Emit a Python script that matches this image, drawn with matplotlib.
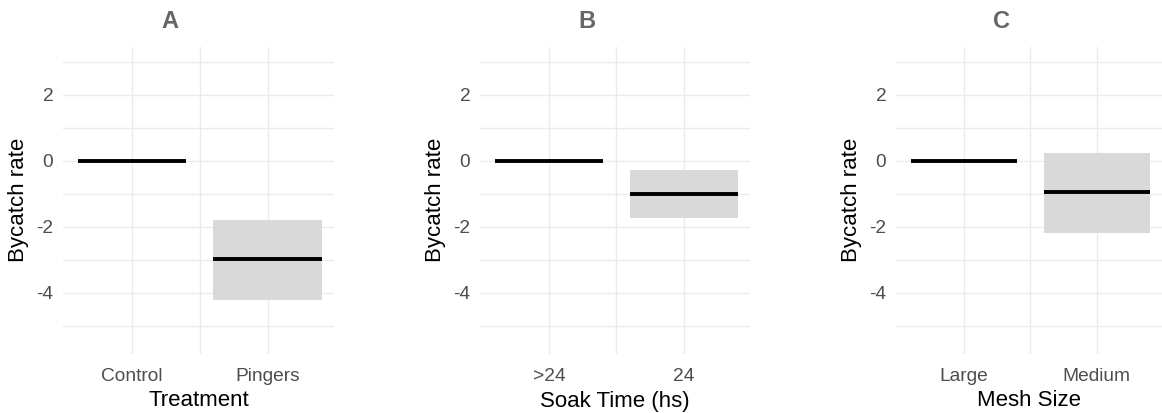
import matplotlib.pyplot as plt
from matplotlib.ticker import FixedLocator

# --- data ---
panel_titles = ["A", "B", "C"]
x_titles = ["Treatment", "Soak Time (hs)", "Mesh Size"]
categories = [["Control", "Pingers"], [">24", "24"], ["Large", "Medium"]]
estimates = [[0.0, -2.97], [0.0, -1.0], [0.0, -0.95]]
lower = [[0.0, -4.21], [0.0, -1.73], [0.0, -2.18]]
upper = [[0.0, -1.79], [0.0, -0.27], [0.0, 0.24]]

W, H = 1162, 413
fig = plt.figure(figsize=(W / 100, H / 100), dpi=100)
plt.rcParams['font.family'] = ['Liberation Sans', 'DejaVu Sans']

# panel boxes in pixels: (left, right), top=47, bottom=354
panel_x = [(63, 334), (480, 750), (896, 1162)]
ylab_x = [19, 435, 851]
title_x = [170, 587, 1002]
top_px, bot_px = 47, 354

grid_col = "#EBEBEB"
tick_col = "#4D4D4D"
box_w = 0.8

for i in range(3):
    l, r = panel_x[i]
    ax = fig.add_axes([l / W, (H - bot_px) / H, (r - l) / W, (bot_px - top_px) / H])
    pos = [1, 2]
    for j, p in enumerate(pos):
        lo, hi = lower[i][j], upper[i][j]
        if hi > lo:
            ax.fill_between([p - box_w / 2, p + box_w / 2], lo, hi,
                            color="#D9D9D9", linewidth=0, zorder=2)
        ax.plot([p - box_w / 2, p + box_w / 2], [estimates[i][j]] * 2,
                color="black", lw=2.8, solid_capstyle="butt", zorder=3)

    ax.set_xlim(0.49, 2.49)
    ax.set_ylim(-5.85, 3.45)
    ax.set_xticks(pos)
    ax.set_xticklabels(categories[i])
    ax.xaxis.set_minor_locator(FixedLocator([1.5]))
    ax.yaxis.set_major_locator(FixedLocator([-4, -2, 0, 2]))
    ax.yaxis.set_minor_locator(FixedLocator([-5, -3, -1, 1, 3]))
    ax.set_yticklabels(["-4", "-2", "0", "2"])
    ax.grid(which="both", color=grid_col, lw=1.0, zorder=0)
    ax.set_axisbelow(True)
    for s in ax.spines.values():
        s.set_visible(False)
    ax.tick_params(which="both", length=0)
    ax.tick_params(axis="x", pad=10, labelsize=13.8, labelcolor=tick_col)
    ax.tick_params(axis="y", pad=7, labelsize=13.8, labelcolor=tick_col)

    fig.text(ylab_x[i] / W, 1 - 200 / H, "Bycatch rate", rotation=90,
             ha="center", va="center", fontsize=16, color="black")
    fig.text((l + r) / 2 / W, 1 - 401 / H, x_titles[i],
             ha="center", va="center", fontsize=16, color="black")
    fig.text(title_x[i] / W, 1 - 22 / H, panel_titles[i],
             ha="center", va="center", fontsize=17, fontweight="bold", color="#666666")

fig.savefig("out.png", dpi=100, facecolor="white")
